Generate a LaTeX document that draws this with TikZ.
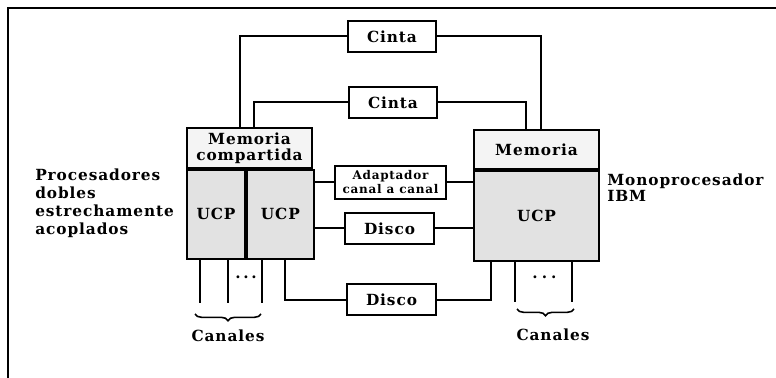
\documentclass[tikz,border=0pt]{standalone}
\usepackage{fontspec}
\usepackage{tikz}
\usetikzlibrary{positioning, calc, decorations.pathreplacing}
\newfontfamily\figfont[LetterSpace=6]{DejaVu Serif}
\definecolor{ucpgray}{RGB}{226,226,226}
\definecolor{memgray}{RGB}{244,244,244}

\begin{document}
\begin{tikzpicture}[x=0.75pt, y=-0.75pt,
    unidad/.style={draw, line width=1.4pt, inner sep=0pt, align=center, font=\figfont\bfseries\fontsize{11.5}{12}\selectfont},
    enlace/.style={line width=1.5pt},
    rotulo/.style={align=left, inner sep=0pt, font=\figfont\bfseries\fontsize{11.5}{13.5}\selectfont}]
    \useasboundingbox (0,0) rectangle (776,378);

    % Frame
    \draw[line width=1.2pt] (776,8) -- (8,8) -- (8,378);

    % Tapes
    \node[unidad, minimum width=66pt, minimum height=23.25pt] (cinta1) at (392,36.5) {Cinta};
    \node[unidad, minimum width=66pt, minimum height=23.25pt] (cinta2) at (393,102.5) {Cinta};

    % Dual processors
    \node[unidad, fill=memgray, minimum width=93.75pt, minimum height=30pt] (memc) at (249.5,148) {Memoria\\[0pt]compartida};
    \node[unidad, fill=ucpgray, minimum width=43.5pt, minimum height=66.75pt, anchor=north west] (ucpa) at (memc.south west) {UCP};
    \node[unidad, fill=ucpgray, minimum width=50.25pt, minimum height=66.75pt, anchor=north west] (ucpb) at (ucpa.north east) {UCP};

    % IBM uniprocessor
    \node[unidad, fill=memgray, minimum width=93.75pt, minimum height=29.25pt] (mem) at (536.5,149.5) {Memoria};
    \node[unidad, fill=ucpgray, minimum width=93.75pt, minimum height=67.5pt, anchor=north] (ucpr) at (mem.south) {UCP};

    % Adapter and disks
    \node[unidad, fill=white, minimum width=83.25pt, minimum height=24.75pt, font=\figfont\bfseries\fontsize{9}{10.5}\selectfont] (adapt) at (390.5,182.5) {Adaptador\\canal a canal};
    \node[unidad, fill=white, minimum width=66.75pt, minimum height=23.25pt] (disco1) at (389.5,228.5) {Disco};
    \node[unidad, fill=white, minimum width=66.75pt, minimum height=23.25pt] (disco2) at (391.5,299.5) {Disco};

    % Links to tapes
    \draw[enlace] (cinta1.west) -| ([shift={(54,0)}]memc.north west);
    \draw[enlace] (cinta2.west) -| ([shift={(68,0)}]memc.north west);
    \draw[enlace] (cinta1.east) -| ([shift={(68,0)}]mem.north west);
    \draw[enlace] (cinta2.east) -| ([shift={(53,0)}]mem.north west);

    % Links to adapter and disks
    \draw[enlace] (adapt.west -| ucpb.east) -- (adapt.west);
    \draw[enlace] (adapt.east) -- (adapt.east -| ucpr.west);
    \draw[enlace] (disco1.west -| ucpb.east) -- (disco1.west);
    \draw[enlace] (disco1.east) -- (disco1.east -| ucpr.west);
    \draw[enlace] ([shift={(39,0)}]ucpb.south west) |- (disco2.west);
    \draw[enlace] (disco2.east) -| ([shift={(18,0)}]ucpr.south west);

    % Channels
    \foreach \dx in {14,42,76}
        \draw[enlace] ([shift={(\dx,0)}]ucpa.south west) -- ++(0,43);
    \foreach \dx in {42,99}
        \draw[enlace] ([shift={(\dx,0)}]ucpr.south west) -- ++(0,40);
    \node[rotulo] (puntos1) at (246,277) {.\hspace{2pt}.\hspace{2pt}.};
    \node[rotulo] (puntos2) at (544.5,277) {.\hspace{3pt}.\hspace{3pt}.};

    \coordinate (llaveA) at (195,314);
    \coordinate (llaveB) at (261,314);
    \coordinate (llaveC) at (517,309);
    \coordinate (llaveD) at (574,309);
    \draw[line width=1.2pt, decorate, decoration={brace, mirror, amplitude=5pt}] (llaveA) -- (llaveB);
    \draw[line width=1.2pt, decorate, decoration={brace, mirror, amplitude=5pt}] (llaveC) -- (llaveD);
    \node[rotulo] (canales1) at (228,336) {Canales};
    \node[rotulo] (canales2) at (553,335) {Canales};

    % Side labels
    \node[rotulo, anchor=west] (duales) at (35,203) {Procesadores\\dobles\\estrechamente\\acoplados};
    \node[rotulo, anchor=west, font=\figfont\bfseries\fontsize{11.5}{12}\selectfont] (ibm) at (607,187.5) {Monoprocesador\\IBM};
\end{tikzpicture}
\end{document}
